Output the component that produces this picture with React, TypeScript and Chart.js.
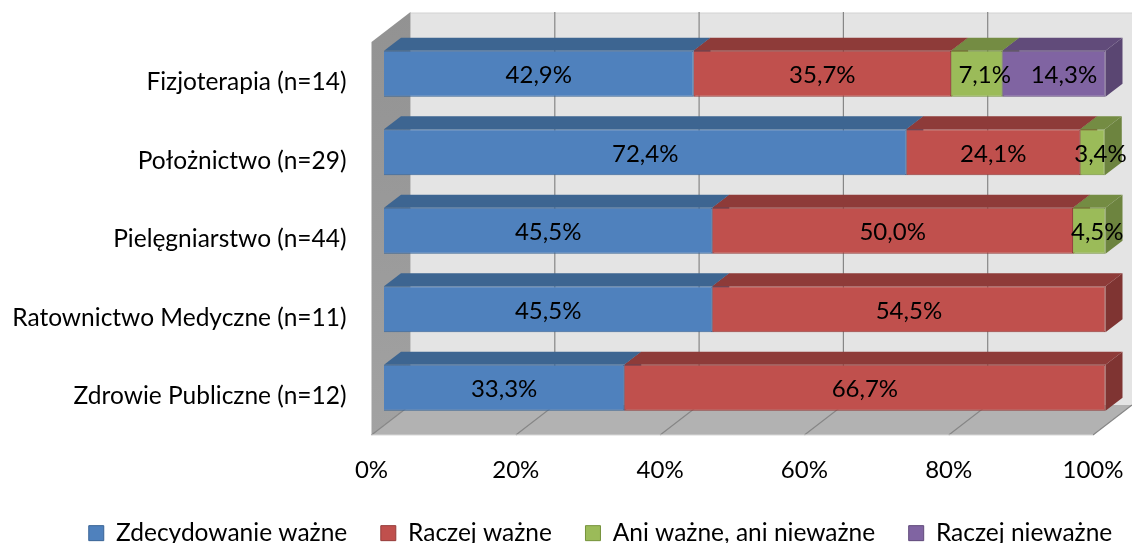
import React, { useEffect, useRef } from "react";
import { Chart, registerables } from "chart.js";

Chart.register(...registerables);

const categories = [
  "Fizjoterapia (n=14)",
  "Położnictwo (n=29)",
  "Pielęgniarstwo (n=44)",
  "Ratownictwo Medyczne (n=11)",
  "Zdrowie Publiczne (n=12)",
];
const zdecydowanieWazne = [42.9, 72.4, 45.5, 45.5, 33.3];
const raczejWazne = [35.7, 24.1, 50.0, 54.5, 66.7];
const aniWazneAniNiewazne = [7.1, 3.4, 4.5, 0, 0];
const raczejNiewazne = [14.3, 0, 0, 0, 0];
const xTicks = [0, 20, 40, 60, 80, 100];

const FONT = "Lato, Carlito, Calibri, sans-serif";
const FONT_SIZE = 24;
const TEXT_SIZE = 24.5;

const sides = [
  { front: "#4f81bd", border: "#3a6596", top: "#3d6591", side: "#355a83" },
  { front: "#c0504d", border: "#953c3a", top: "#8e3b39", side: "#7f3432" },
  { front: "#9bbb59", border: "#76933c", top: "#748c43", side: "#6d843f" },
  { front: "#8064a2", border: "#604a7b", top: "#614b7a", side: "#5a4672" },
];
const labelShift = [0, 0, 8, 10];
const BAR_DX = 12.5, BAR_DY = -8.5;
const DEPTH_X = 17, DEPTH_Y = 13;
const WALL_X = 39, WALL_Y = 30;

const poly = (ctx: CanvasRenderingContext2D, pts: number[][], fill: any) => {
  ctx.beginPath();
  pts.forEach((p, i) => (i ? ctx.lineTo(p[0], p[1]) : ctx.moveTo(p[0], p[1])));
  ctx.closePath();
  ctx.fillStyle = fill;
  ctx.fill();
};

const fmt = (v: number) => v.toFixed(1).replace(".", ",") + "%";

const plugin3d = {
  id: "bar3d",
  afterLayout(chart: any) {
    const lg = chart.legend;
    if (lg) {
      lg.left += 54;
      lg.right += 54;
      lg.top += 12.4;
      lg.bottom += 12.4;
    }
    chart.scales.x.bottom += 45;
  },
  beforeDatasetsDraw(chart: any) {
    const { ctx, chartArea: a, scales } = chart;
    const L = a.left, R = a.right;
    const T = 42, B = 435;
    ctx.save();
    poly(ctx, [[L + WALL_X, T - WALL_Y + 1], [R + WALL_X, T - WALL_Y + 1], [R + WALL_X, B - WALL_Y], [L + WALL_X, B - WALL_Y]], "#e4e4e4");
    ctx.strokeStyle = "#d2d2d2";
    ctx.lineWidth = 1;
    ctx.beginPath();
    ctx.moveTo(L + WALL_X, T - WALL_Y + 1);
    ctx.lineTo(R + WALL_X, T - WALL_Y + 1);
    ctx.stroke();
    const wall = ctx.createLinearGradient(0, T - WALL_Y, 0, B);
    wall.addColorStop(0, "#929292");
    wall.addColorStop(1, "#a2a2a2");
    poly(ctx, [[L, T], [L + WALL_X, T - WALL_Y], [L + WALL_X, B - WALL_Y], [L, B]], wall);
    poly(ctx, [[L, B], [L + WALL_X, B - WALL_Y], [R + WALL_X, B - WALL_Y], [R, B]], "#b2b2b2");
    ctx.strokeStyle = "#868686";
    ctx.lineWidth = 1.2;
    xTicks.forEach((v) => {
      const x = scales.x.getPixelForValue(v);
      ctx.beginPath();
      ctx.moveTo(x, B);
      ctx.lineTo(x + WALL_X, B - WALL_Y);
      if (v > 0 && v < 100) ctx.lineTo(x + WALL_X, T - WALL_Y);
      ctx.stroke();
    });
    ctx.strokeStyle = "#d8d8d8";
    ctx.lineWidth = 1;
    ctx.beginPath();
    ctx.moveTo(L, B);
    ctx.lineTo(R, B);
    ctx.stroke();
    ctx.restore();

    ctx.save();
    ctx.translate(BAR_DX, BAR_DY);
    categories.forEach((_, i) => {
      chart.data.datasets.forEach((ds: any, d: number) => {
        if (!ds.data[i]) return;
        const el = chart.getDatasetMeta(d).data[i];
        const t = el.y - el.height / 2, b = el.y + el.height / 2;
        poly(ctx, [[el.x, t], [el.x + DEPTH_X, t - DEPTH_Y], [el.x + DEPTH_X, b - DEPTH_Y], [el.x, b]], sides[d].side);
      });
      chart.data.datasets.forEach((ds: any, d: number) => {
        if (!ds.data[i]) return;
        const el = chart.getDatasetMeta(d).data[i];
        const t = el.y - el.height / 2;
        poly(ctx, [[el.base, t], [el.base + DEPTH_X, t - DEPTH_Y], [el.x + DEPTH_X, t - DEPTH_Y], [el.x, t]], sides[d].top);
      });
    });
  },
  afterDatasetsDraw(chart: any) {
    const { ctx } = chart;
    ctx.font = `${FONT_SIZE}px ${FONT}`;
    ctx.fillStyle = "#000";
    ctx.textAlign = "center";
    ctx.textBaseline = "middle";
    chart.data.datasets.forEach((ds: any, d: number) => {
      chart.getDatasetMeta(d).data.forEach((el: any, i: number) => {
        const v = ds.data[i];
        if (!v) return;
        ctx.fillText(fmt(v), (el.x + el.base) / 2 + labelShift[d], el.y + 2);
      });
    });
    ctx.restore();
  },
};

export default function App() {
  const ref = useRef<HTMLCanvasElement>(null);
  useEffect(() => {
    document.body.style.margin = "0";
    const series = [
      ["Zdecydowanie ważne", zdecydowanieWazne],
      ["Raczej ważne", raczejWazne],
      ["Ani ważne, ani nieważne", aniWazneAniNiewazne],
      ["Raczej nieważne", raczejNiewazne],
    ] as [string, number[]][];
    const chart = new Chart(ref.current!, {
      type: "bar",
      data: {
        labels: categories,
        datasets: series.map(([label, data], d) => ({
          label,
          data,
          backgroundColor: sides[d].front,
          borderColor: sides[d].border,
          borderWidth: 1,
          categoryPercentage: 1,
          barPercentage: 0.585,
          clip: false as any,
        })),
      },
      options: {
        indexAxis: "y",
        responsive: false,
        animation: false,
        layout: { padding: { top: 43, right: 39, left: 0, bottom: 0 } },
        plugins: {
          tooltip: { enabled: false },
          title: { display: false },
          legend: {
            position: "bottom",
            labels: {
              boxWidth: 15,
              boxHeight: 15,
              padding: 33.5,
              color: "#000",
              font: { family: FONT, size: TEXT_SIZE },
            },
          },
        },
        scales: {
          x: {
            stacked: true,
            min: 0,
            max: 100,
            grid: { display: false },
            border: { display: false },
            afterFit: (s: any) => { s.height = 39.5; s.paddingLeft = 0; s.paddingRight = 0; },
            afterBuildTicks: (s: any) => { s.ticks = xTicks.map((value) => ({ value })); },
            ticks: {
              maxRotation: 0,
              padding: 12.5,
              color: "#000",
              font: { family: FONT, size: FONT_SIZE },
              callback: (v: any) => v + "%",
            },
          },
          y: {
            stacked: true,
            grid: { display: false },
            border: { display: false },
            afterFit: (s: any) => { s.width = 371.5; },
            ticks: {
              padding: 17,
              color: "#000",
              font: { family: FONT, size: TEXT_SIZE },
            },
          },
        },
      },
      plugins: [plugin3d],
    } as any);
    return () => chart.destroy();
  }, []);
  return <canvas ref={ref} width={1132} height={543} style={{ display: "block" }} />;
}
